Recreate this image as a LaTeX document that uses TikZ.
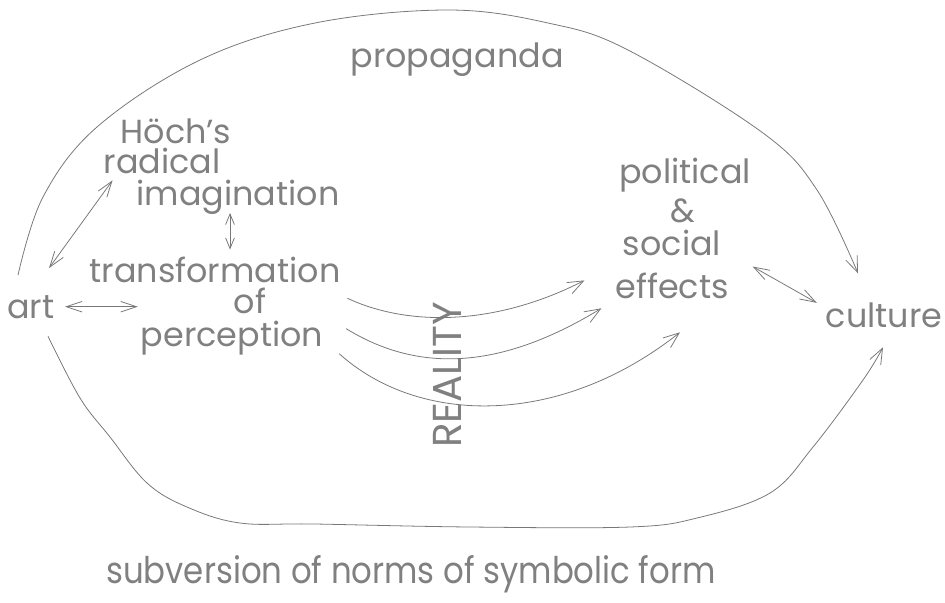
\documentclass[tikz,border=0pt]{standalone}
\usepackage{fontspec}
\setmainfont{Poppins}
\definecolor{pencil}{RGB}{120,120,120}
\definecolor{lead}{RGB}{128,128,128}
\usetikzlibrary{arrows, arrows.meta, positioning, calc}

\begin{document}
\begin{tikzpicture}[x=0.02cm, y=-0.02cm,
	word/.style={anchor=base, inner sep=1.5pt, text=lead, font=\fontsize{19}{22}\selectfont},
	stroke/.style={draw=pencil, line width=0.45pt},
	one/.style={stroke, -{Straight Barb[length=9pt,width=7pt]}},
	both/.style={stroke, {Straight Barb[length=9pt,width=6pt]}-{Straight Barb[length=9pt,width=6pt]}},
	short/.style={stroke, {Straight Barb[length=6pt,width=5pt]}-{Straight Barb[length=6pt,width=5pt]}}]
			\useasboundingbox (0,0) rectangle (945,602);
			
			\foreach \n/\t/\x/\y in {prop/propaganda/457/67, hoch/Höch’s/176/143,
				radical/radical/162/173, imag/imagination/238/205,
				trans/transformation/215/282, of/of/250/313, perc/perception/232/346,
				art/art/31/318, pol/political/685/183, amp/\&/683/222,
				soc/social/672/255, eff/effects/672/298, cult/culture/884/327}
			\node[word] (\n) at (\x,\y) {\t};
			
			\node[word, anchor=center, rotate=90, font=\fontsize{23}{23}\selectfont] (real) at (447,375) {REALITY};
			\node[word] (subv) at (411,583) {\scalebox{0.97}[1.1]{subversion of norms of symbolic form}};
			
			\coordinate (artup) at ([shift={(-13,-17)}]art.north);
			\coordinate (artdn) at ([shift={(17,15)}]art.south);
			\coordinate (cultup) at ([shift={(-26,-26)}]cult.north);
			\coordinate (cultdn) at ([shift={(-1,17)}]cult.south);
			
			\draw[one] plot[smooth, tension=0.6] coordinates {(artup) (43,197) (97,127) (200,60)
				(315,23) (448,10) (548,23) (628,50) (763,133) (817,190) (cultup)};
			\draw[one] plot[smooth, tension=0.6] coordinates {(artdn) (80,398) (110,437) (147,483)
				(187,507) (240,523) (315,524) (470,527) (630,527) (697,518) (770,493) (813,447)
				(863,380) (cultdn)};
			
			\draw[both] ([shift={(18,-24)}]art.north) -- ([shift={(12,4)}]radical.south west);
			\draw[short] ([shift={(-8,-4)}]imag.south) -- ([shift={(-8,-4)}]imag.south |- trans.north);
			\draw[both, shorten <=0.15cm] (art.east) -- (art.east -| perc.west);
			\draw[both] ([shift={(21,-3)}]eff.north east) -- ([shift={(-6,-12)}]cult.west);
			
			\coordinate (r1) at ([shift={(4,13)}]trans.south east);
			\coordinate (r2) at ([shift={(20,-9)}]perc.east);
			\coordinate (r3) at ([shift={(13,-4)}]perc.south east);
			\coordinate (e1) at ([shift={(-28,-5)}]eff.west);
			\coordinate (e2) at ([shift={(-11,7)}]eff.south west);
			\coordinate (e3) at ([shift={(8,31)}]eff.south);
			\foreach \i/\ax/\ay/\bx/\by in {1/60/28/-90/46, 2/73/45/-100/61, 3/80/72/-120/95}
			\draw[one] (r\i) .. controls +(\ax,\ay) and +(\bx,\by) .. (e\i);
			
		\end{tikzpicture}
\end{document}
